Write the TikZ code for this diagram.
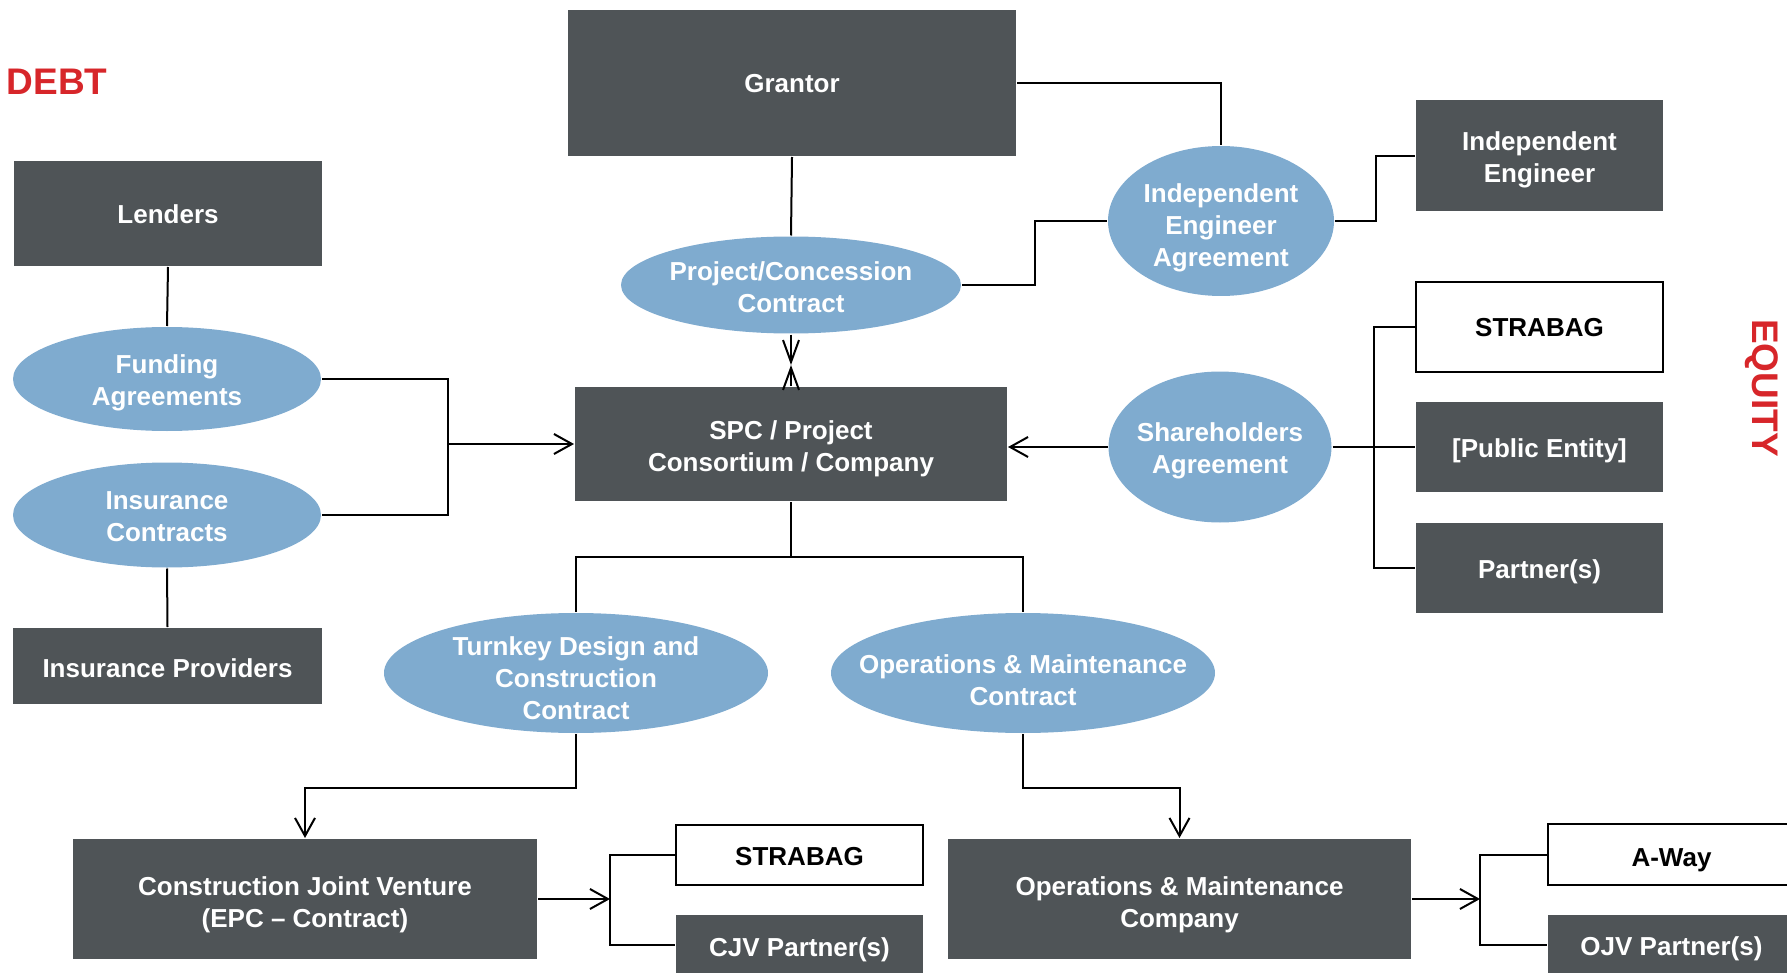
\documentclass[tikz,border=0pt]{standalone}
\usepackage{fontspec}
\setmainfont{Liberation Sans}
\usetikzlibrary{arrows.meta,shapes.geometric}
\definecolor{boxgray}{HTML}{4F5457}
\definecolor{ovalblue}{HTML}{7FABCF}
\definecolor{sidered}{HTML}{D7262A}
% line struts, so that text sits the same way with or without descenders
\newcommand{\tp}[1][27pt]{\rule{0pt}{#1}}
\newcommand{\bt}{\rule[-6pt]{0pt}{6pt}}

\begin{document}
\begin{tikzpicture}[x=1pt,y=-1pt,line width=2pt,
  >={Straight Barb[length=18pt,width=20pt]},
  party/.style={rectangle,fill=boxgray,text=white,align=center,inner sep=0pt,
    font=\bfseries\fontsize{26}{32}\selectfont},
  member/.style={rectangle,draw=black,fill=white,text=black,inner sep=0pt,
    font=\bfseries\fontsize{26}{32}\selectfont},
  deal/.style={ellipse,fill=ovalblue,text=white,align=center,inner xsep=-30pt,inner ysep=-12pt,
    font=\bfseries\fontsize{26}{32}\selectfont},
  side/.style={text=sidered,inner sep=0pt,font=\bfseries\fontsize{37}{44}\selectfont}]
\useasboundingbox (0,0) rectangle (1787,973);
\node[side] (debt) at (57,82) {DEBT};
\node[side,rotate=-90] (equity) at (1762,388) {EQUITY};
% top row
\node[party,minimum width=448pt,minimum height=146pt] (grantor) at (792,83) {\tp[26pt]Grantor\bt};
\node[deal,minimum width=340pt,minimum height=97pt] (concession) at (791,285) {\tp[29pt]Project/Concession\\Contract\bt};
\node[party,minimum width=432pt,minimum height=114pt] (spc) at (791,444) {\tp[29pt]SPC / Project\\Consortium / Company\bt};
\node[deal,minimum width=226pt,minimum height=150pt] (ieagr) at (1221,221) {\tp[34pt]Independent\\Engineer\\Agreement\bt};
\node[party,minimum width=247pt,minimum height=111pt] (ieng) at (1539.5,156) {\tp[28pt]Independent\\Engineer\bt};
% debt side
\node[party,minimum width=308pt,minimum height=105pt] (lenders) at (168,213.5) {\tp Lenders\bt};
\node[deal,minimum width=308pt,minimum height=104pt] (funding) at (167,379) {\tp Funding\\Agreements\bt};
\node[deal,minimum width=308pt,minimum height=105pt] (inscon) at (167,515) {\tp Insurance\\Contracts\bt};
\node[party,minimum width=309pt,minimum height=76pt] (insprov) at (167.5,666) {\tp[28pt]Insurance Providers\bt};
% equity side
\node[deal,minimum width=223pt,minimum height=151pt] (shagr) at (1220,447) {\tp Shareholders\\Agreement\bt};
\node[member,minimum width=247pt,minimum height=90pt] (strabagE) at (1539.5,327) {\tp[26pt]STRABAG\bt};
\node[party,minimum width=247pt,minimum height=90pt] (public) at (1539.5,447) {\tp[27pt][Public Entity]\bt};
\node[party,minimum width=247pt,minimum height=90pt] (partners) at (1539.5,568) {\tp[27pt]Partner(s)\bt};
% contracts below
\node[deal,minimum width=384pt,minimum height=120pt] (turnkey) at (576,673) {\tp[34pt]Turnkey Design and\\Construction\\Contract\bt};
\node[deal,minimum width=384pt,minimum height=120pt] (omcon) at (1023,673) {\tp[39pt]Operations \& Maintenance\\Contract\bt};
\node[party,minimum width=464pt,minimum height=120pt] (cjv) at (305,899) {\tp[31pt]Construction Joint Venture\\(EPC – Contract)\bt};
\node[party,minimum width=463pt,minimum height=120pt] (omco) at (1179.5,899) {\tp[30pt]Operations \& Maintenance\\Company\bt};
\node[member,minimum width=247pt,minimum height=60pt] (strabagC) at (799.5,855) {\tp STRABAG\bt};
\node[party,minimum width=247pt,minimum height=60pt] (cjvpart) at (799.5,945) {\tp[28pt]CJV Partner(s)\bt};
\node[member,minimum width=247pt,minimum height=61pt] (away) at (1671.5,854.5) {\tp[29pt]A-Way\bt};
\node[party,minimum width=247pt,minimum height=60pt] (ojvpart) at (1671.5,945) {\tp OJV Partner(s)\bt};
% connectors
\coordinate (meet) at (791,365);
\coordinate (lbus) at (448,444);
\coordinate (rbus) at (1374,447);
\coordinate (split) at (791,557);
\coordinate (cbus) at (610,899);
\coordinate (obus) at (1480,899);
\draw (grantor.south) -- (concession.north);
\draw[-{Straight Barb[length=22pt,width=16pt]}] (concession.south) -- (meet);
\draw[-{Straight Barb[length=22pt,width=16pt]}] (spc.north) -- (meet);
\draw (grantor.east) -| (ieagr.north);
\draw (concession.east) -- ++(73,0) |- (ieagr.west);
\draw (ieagr.east) -- ++(41,0) |- (ieng.west);
\draw (lenders.south) -- (funding.north);
\draw (inscon.south) -- (insprov.north);
\draw (funding.east) -| (lbus) |- (inscon.east);
\draw[->] (lbus) -- (lbus -| spc.west);
\draw[->] (shagr.west) -- (spc.east |- shagr.west);
\draw (shagr.east) -- (public.west);
\draw (strabagE.west) -| (rbus) |- (partners.west);
\draw (spc.south) -- (split);
\draw (turnkey.north) |- (split) -| (omcon.north);
\draw[->] (turnkey.south) -- ++(0,54) -| (cjv.north);
\draw[->] (omcon.south) -- ++(0,54) -| (omco.north);
\draw[->] (cjv.east) -- (cjv.east -| cbus);
\draw (strabagC.west) -| (cbus) |- (cjvpart.west);
\draw[->] (omco.east) -- (omco.east -| obus);
\draw (away.west) -| (obus) |- (ojvpart.west);
\end{tikzpicture}
\end{document}
